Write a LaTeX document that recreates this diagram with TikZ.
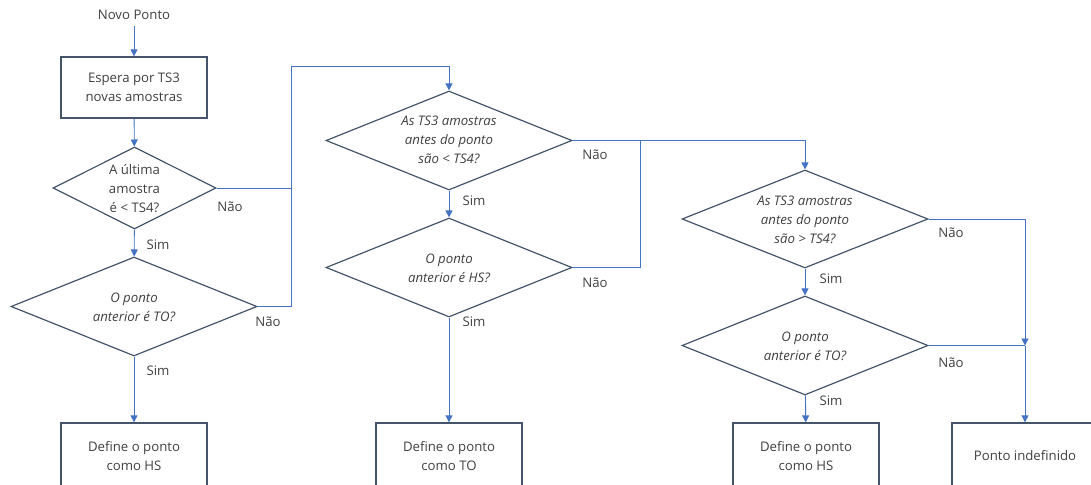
\documentclass[tikz,border=0pt]{standalone}
\usepackage{fontspec}
\setmainfont{Open Sans}
\usetikzlibrary{shapes.geometric,arrows.meta}
\definecolor{shapec}{HTML}{44546A}
\definecolor{connc}{HTML}{4472C4}
\definecolor{txtc}{HTML}{404040}
\begin{document}
\begin{tikzpicture}[x=1pt,y=-1pt,
 font=\fontsize{13.2}{19}\selectfont, text=txtc,
 box/.style={draw=shapec, line width=1.3pt, minimum width=146pt, minimum height=61pt, inner sep=0pt, align=center},
 dia/.style={draw=shapec, line width=1.2pt, diamond, inner sep=0pt},
 txt/.style={align=center, inner sep=0pt},
 itxt/.style={txt, font=\fontsize{13.2}{19}\selectfont\itshape},
 lbl/.style={inner sep=0pt},
 link/.style={draw=connc, line width=0.9pt},
 arr/.style={link, -{Triangle[width=7pt,length=7pt]}}]
\useasboundingbox (0,0) rectangle (1091,484);
\clip (0,0) rectangle (1091,484);

% column 1
\node[lbl] (start) at (134,15) {Novo Ponto};
\node[box] (b1) at (134,87.5) {Espera por TS3\\novas amostras};
\node[dia, minimum width=163pt, minimum height=82pt] (d1) at (134.5,188) {};
\node[txt] (d1t) at (134.5,189) {A última\\amostra\\é < TS4?};
\node[dia, minimum width=246pt, minimum height=99pt] (d2) at (134,306.5) {};
\node[itxt] (d2t) at (134,307) {O ponto\\anterior é TO?};
\node[box, minimum height=66pt] (h1) at (134,456) {Define o ponto\\como HS};

% column 2
\node[dia, minimum width=246pt, minimum height=99pt] (d3) at (449,140.5) {};
\node[itxt] (d3t) at (449,140) {As TS3 amostras\\antes do ponto\\são < TS4?};
\node[dia, minimum width=246pt, minimum height=99pt] (d4) at (449,267.5) {};
\node[itxt] (d4t) at (449,268) {O ponto\\anterior é HS?};
\node[box, minimum height=66pt] (h2) at (449,456) {Define o ponto\\como TO};

% column 3
\node[dia, minimum width=246pt, minimum height=98pt] (d5) at (805,219) {};
\node[itxt] (d5t) at (805,220) {As TS3 amostras\\antes do ponto\\são > TS4?};
\node[dia, minimum width=246pt, minimum height=99pt] (d6) at (805,345.5) {};
\node[itxt] (d6t) at (805,346) {O ponto\\anterior é TO?};
\node[box, minimum height=66pt] (h3) at (806,456) {Define o ponto\\como HS};
\node[box, minimum height=66pt] (pi) at (1025,456) {Ponto indefinido};

% labels
\node[lbl] (l1n) at (230,207) {Não};
\node[lbl] (l1s) at (158,245) {Sim};
\node[lbl] (l2n) at (268,322) {Não};
\node[lbl] (l2s) at (158,371) {Sim};
\node[lbl] (l3n) at (595,155) {Não};
\node[lbl] (l3s) at (474,201) {Sim};
\node[lbl] (l4n) at (595,283) {Não};
\node[lbl] (l4s) at (474,322) {Sim};
\node[lbl] (l5n) at (951,233) {Não};
\node[lbl] (l5s) at (831,279) {Sim};
\node[lbl] (l6n) at (951,363) {Não};
\node[lbl] (l6s) at (831,401) {Sim};

% junction coordinates
\coordinate (jl) at (291,66);
\coordinate (jm) at (640,140.5);

% connectors
\draw[arr, shorten <=6pt] (start) -- (b1);
\draw[arr] (b1) -- (d1);
\draw[arr] (d1) -- (d2);
\draw[arr] (d2) -- (h1);
\draw[link] (d1.east) -- (d1.east -| jl);
\draw[arr] (d2.east) -- (d2.east -| jl) -- (jl) -- (jl -| d3.north) -- (d3.north);

\draw[arr] (d3) -- (d4);
\draw[arr] (d4) -- (h2);
\draw[arr] (d3.east) -- (d3.east -| d5.north) -- (d5.north);
\draw[link] (d4.east) -- (d4.east -| jm) -- (jm);

\draw[arr] (d5) -- (d6);
\draw[arr] (d6) -- (h3);
\draw[arr] (d5.east) -- (d5.east -| pi.north) -- (d6.east -| pi.north);
\draw[link] (d6.east) -- (d6.east -| pi.north);
\draw[arr] (d6.east -| pi.north) -- (pi.north);
\end{tikzpicture}
\end{document}
